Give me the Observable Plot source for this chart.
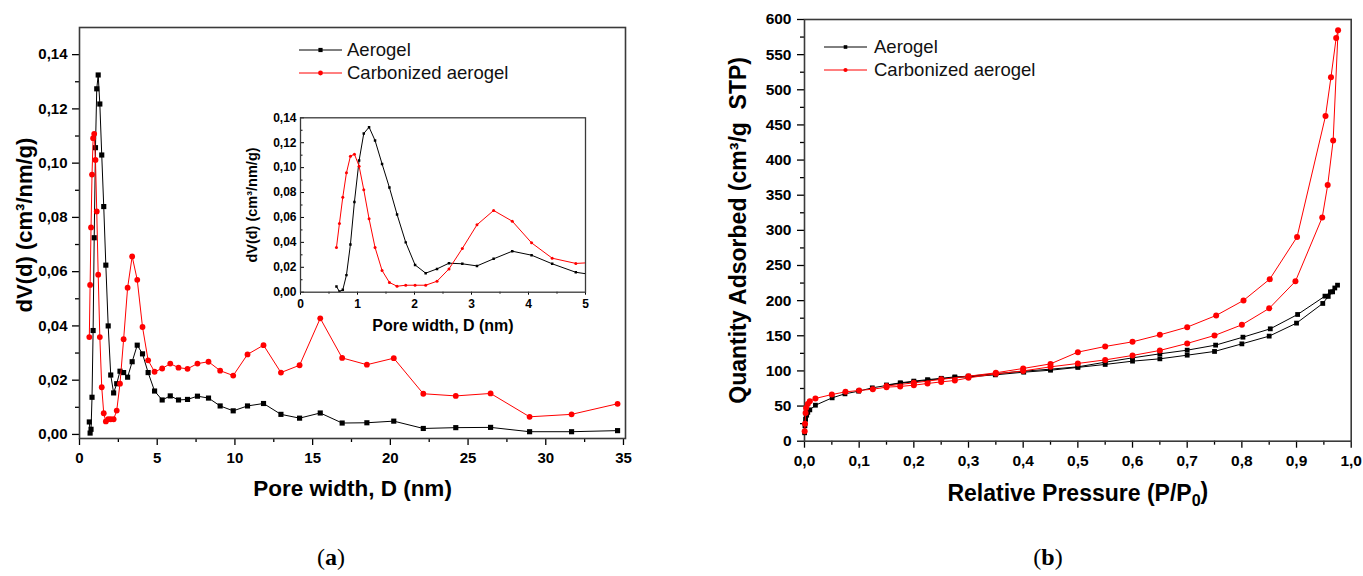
<!DOCTYPE html>
<html>
<head>
<meta charset="utf-8">
<script src="https://cdn.jsdelivr.net/npm/d3@7"></script>
<script src="https://cdn.jsdelivr.net/npm/@observablehq/plot@0.6"></script>
<style>
  body { margin: 0; background: #fff; }
  #fig { position: relative; width: 1363px; height: 576px; overflow: hidden;
         font-family: "Liberation Sans", Arial, Helvetica, sans-serif; color: #000; }
  #fig > svg { position: absolute; overflow: visible; }
  #fig .legend { position: absolute; font-size: 18.5px; color: #111; }
  #fig .legend .row { display: flex; align-items: center; height: 23px; white-space: nowrap; }
  #fig .legend svg { position: static; display: block; flex: none; }
  .cap { position: absolute; transform: translate(-50%, -50%);
         font-family: "Liberation Serif", "DejaVu Serif", serif; font-size: 24px; }
  .cap b { font-weight: bold; }
</style>
</head>
<body>
<div id="fig"></div>
<script>
// ---- Pore size distribution (DFT): pore width (nm) and dV(d) (cm3/nm/g)
const poreWidth = [0.631, 0.683, 0.742, 0.806, 0.876, 0.946, 1.028, 1.11, 1.203, 1.308, 1.431, 1.56,
  1.694, 1.846, 2.01, 2.196, 2.395, 2.605, 2.839, 3.096, 3.388, 3.715, 4.054, 4.416, 4.83, 5.32, 5.84,
  6.37, 6.95, 7.59, 8.30, 9.05, 9.89, 10.81, 11.84, 12.96, 14.16, 15.49, 16.90, 18.49, 20.22, 22.12,
  24.21, 26.45, 28.96, 31.66, 34.62];
const dvAerogel = [0.0046, 0.0005, 0.0019, 0.0137, 0.0383, 0.0725, 0.1057, 0.1274, 0.1325, 0.1218,
  0.1030, 0.0840, 0.0624, 0.0400, 0.0219, 0.0153, 0.0187, 0.0233, 0.0228, 0.0211, 0.0268, 0.0329,
  0.0297, 0.0228, 0.0160, 0.0127, 0.0142, 0.0127, 0.0129, 0.0141, 0.0134, 0.0105, 0.0087, 0.0105,
  0.0114, 0.0074, 0.0060, 0.0079, 0.0042, 0.0043, 0.0049, 0.0022, 0.0025, 0.0026, 0.0010, 0.0010, 0.0014];
const dvCarbonized = [0.0359, 0.0551, 0.0763, 0.0958, 0.1092, 0.1108, 0.1012, 0.0822, 0.0589, 0.0359,
  0.0174, 0.0078, 0.0048, 0.0056, 0.0056, 0.0056, 0.0088, 0.0187, 0.0351, 0.0541, 0.0656, 0.0570,
  0.0396, 0.0273, 0.0231, 0.0243, 0.0261, 0.0246, 0.0242, 0.0261, 0.0268, 0.0235, 0.0217, 0.0295,
  0.0329, 0.0228, 0.0255, 0.0428, 0.0282, 0.0257, 0.0281, 0.0150, 0.0142, 0.0151, 0.0065, 0.0074, 0.0113];

// ---- N2 isotherms: relative pressure and quantity adsorbed (cm3/g STP), adsorption then desorption
const pAerogel = [0.0002, 0.0008, 0.002, 0.004, 0.006, 0.0097, 0.020, 0.0506, 0.074, 0.099, 0.124, 0.150,
  0.176, 0.200, 0.226, 0.251, 0.275, 0.299, 0.349, 0.401, 0.450, 0.500, 0.550, 0.600, 0.650, 0.700,
  0.750, 0.800, 0.850, 0.900, 0.948, 0.958, 0.966, 0.975,
  0.970, 0.962, 0.952, 0.902, 0.852, 0.802, 0.752, 0.700, 0.650, 0.600, 0.550, 0.500, 0.450, 0.400,
  0.350, 0.300, 0.275, 0.250, 0.225, 0.200, 0.175, 0.150];
const qAerogel = [12, 22, 31, 37, 41, 44.6, 51.2, 61.7, 67.4, 71.2, 75.9, 79.3,
  82.6, 84.4, 86.8, 88.7, 90.7, 91.5, 94.4, 98.2, 101, 105, 109.2, 113.9, 117.2, 122.4,
  127.7, 138.5, 149.5, 168, 196, 206, 212.5, 222,
  218, 212.5, 206.4, 180.3, 159.9, 148, 136.7, 129.5, 124.3, 118.6, 112.4, 105.8, 102.5, 99.6,
  96, 92.5, 91.5, 89.5, 87.5, 85.5, 83, 80];
const pCarbonized = [0.0003, 0.001, 0.002, 0.003, 0.006, 0.0097, 0.020, 0.050, 0.075, 0.100, 0.125, 0.150,
  0.175, 0.200, 0.225, 0.250, 0.275, 0.300, 0.350, 0.400, 0.450, 0.500, 0.550, 0.600, 0.650, 0.700,
  0.750, 0.800, 0.850, 0.898, 0.947, 0.957, 0.967, 0.976,
  0.9725, 0.963, 0.953, 0.901, 0.851, 0.803, 0.753, 0.700, 0.650, 0.600, 0.550, 0.500, 0.450, 0.400,
  0.350, 0.300, 0.250, 0.200, 0.150];
const qCarbonized = [14, 25, 40, 47.4, 53.1, 56.9, 60.8, 66.4, 70.2, 72.2, 74.0, 76.9,
  77.9, 79.7, 82.1, 84.4, 86.4, 90.1, 95.8, 100, 105.8, 110.6, 115.7, 122, 129.1, 139.1,
  150.4, 165.6, 189, 227.5, 318.4, 364.4, 428, 584.6,
  573.7, 518, 462.6, 290.6, 230.6, 200.3, 178.9, 162.3, 151.3, 141.4, 134.8, 126.7, 110, 103.5,
  97.3, 92.5, 88, 83, 78.5];

// ---- series, ticks and labels
const seriesNames = ["Aerogel", "Carbonized aerogel"];
const seriesColors = ["#000000", "#ff0000"];
const psdTicksY = [0, 0.02, 0.04, 0.06, 0.08, 0.10, 0.12, 0.14];
const psdMinorY = [0.01, 0.03, 0.05, 0.07, 0.09, 0.11, 0.13];
const psdTicksX = [0, 5, 10, 15, 20, 25, 30, 35];
const psdMinorX = [2.5, 7.5, 12.5, 17.5, 22.5, 27.5, 32.5];
const insetTicksX = [0, 1, 2, 3, 4, 5];
const insetMinorX = [0.5, 1.5, 2.5, 3.5, 4.5];
const isoTicksX = [0, 0.1, 0.2, 0.3, 0.4, 0.5, 0.6, 0.7, 0.8, 0.9, 1.0];
const isoMinorX = [0.05, 0.15, 0.25, 0.35, 0.45, 0.55, 0.65, 0.75, 0.85, 0.95];
const isoTicksY = [0, 50, 100, 150, 200, 250, 300, 350, 400, 450, 500, 550, 600];
const isoMinorY = [25, 75, 125, 175, 225, 275, 325, 375, 425, 475, 525, 575];
const psdLabelX = "Pore width, D (nm)";
const psdLabelY = "dV(d) (cm³/nm/g)";
const isoLabelX = "Relative Pressure (P/P0)";
const isoLabelY = "Quantity Adsorbed (cm³/g\u00a0\u00a0STP)";
const captions = ["a", "b"];

const fig = document.getElementById("fig");
const fontStack = "'Liberation Sans', Arial, Helvetica, sans-serif";
const axisColor = "#3a3a3a";
const comma = (n) => (d) => d.toFixed(n).replace(".", ",");
const blank = () => "";
const baseStyle = {fontFamily: fontStack, fontSize: "15px", color: "#000", background: "transparent", overflow: "visible"};

const psdAerogel = poreWidth.map((w, i) => ({w, dv: dvAerogel[i]}));
const psdCarbon = poreWidth.map((w, i) => ({w, dv: dvCarbonized[i]}));
const isoAerogel = pAerogel.map((p, i) => ({p, q: qAerogel[i]}));
const isoCarbon = pCarbonized.map((p, i) => ({p, q: qCarbonized[i]}));

function seriesMarks(dataA, dataC, x, y, {rSquare, rCircle, clip = false}) {
  return [
    Plot.line(dataA, {x, y, stroke: seriesColors[0], strokeWidth: 1, clip}),
    Plot.dot(dataA, {x, y, symbol: "square", r: rSquare, fill: seriesColors[0], clip}),
    Plot.line(dataC, {x, y, stroke: seriesColors[1], strokeWidth: 1, clip}),
    Plot.dot(dataC, {x, y, symbol: "circle", r: rCircle, fill: seriesColors[1], clip})
  ];
}

function place(el, left, top) {
  el.style.left = left + "px";
  el.style.top = top + "px";
  fig.appendChild(el);
  return el;
}

// ---- (a) pore size distribution, full range
const plotA = Plot.plot({
  width: 640, height: 520,
  marginLeft: 79, marginRight: 15, marginTop: 27, marginBottom: 82,
  x: {domain: [0, 35.13]},
  y: {domain: [-0.0015, 0.15]},
  style: baseStyle,
  marks: [
    Plot.axisY({ticks: psdTicksY, tickSize: 7, tickPadding: 5, tickFormat: comma(2), fontSize: 15, fontWeight: "bold", strokeWidth: 1.3, label: null}),
    Plot.axisY({ticks: psdMinorY, tickSize: 4, tickFormat: blank, strokeWidth: 1.3, label: null}),
    Plot.axisX({ticks: psdTicksX, tickSize: 7, tickPadding: 7, tickFormat: d => String(d), fontSize: 15, fontWeight: "bold", strokeWidth: 1.3, label: null}),
    Plot.axisX({ticks: psdMinorX, tickSize: 4, tickFormat: blank, strokeWidth: 1.3, label: null}),
    Plot.frame({stroke: axisColor, strokeWidth: 1.6}),
    ...seriesMarks(psdAerogel, psdCarbon, "w", "dv", {rSquare: 2.9, rCircle: 2.9}),
    Plot.text([psdLabelX], {frameAnchor: "bottom", dy: 50, lineAnchor: "middle", fontSize: 22.5, fontWeight: "bold"}),
    Plot.text([psdLabelY], {frameAnchor: "left", dx: -55, dy: -8, rotate: -90, textAnchor: "middle", lineAnchor: "middle", fontSize: 22, fontWeight: "bold"})
  ]
});
place(plotA, 0, 0);

// ---- (a) inset, 0–5 nm
const insetFrameWidth = 285;
const plotInset = Plot.plot({
  width: 380, height: 250,
  marginLeft: 70, marginRight: 25, marginTop: 17.3, marginBottom: 58.3,
  x: {domain: [0, 5]},
  y: {domain: [0, 0.14]},
  style: baseStyle,
  marks: [
    Plot.axisY({ticks: psdTicksY, tickSize: 0, tickPadding: 4, tickFormat: comma(2), fontSize: 12, fontWeight: "bold", label: null}),
    Plot.tickY(psdTicksY, {y: d => d, insetRight: insetFrameWidth - 4, stroke: "#000", strokeWidth: 1}),
    Plot.tickY(psdMinorY, {y: d => d, insetRight: insetFrameWidth - 2.5, stroke: "#000", strokeWidth: 1}),
    Plot.axisX({ticks: insetTicksX, tickSize: 3, tickPadding: 4, tickFormat: d => String(d), fontSize: 12, fontWeight: "bold", label: null}),
    Plot.axisX({ticks: insetMinorX, tickSize: 2, tickFormat: blank, label: null}),
    Plot.frame({stroke: axisColor, strokeWidth: 1.3}),
    ...seriesMarks(psdAerogel, psdCarbon, "w", "dv", {rSquare: 1.4, rCircle: 1.5, clip: true}),
    Plot.text([psdLabelX], {frameAnchor: "bottom", dy: 33.3, lineAnchor: "middle", fontSize: 16, fontWeight: "bold"}),
    Plot.text([psdLabelY], {frameAnchor: "left", dx: -48.3, rotate: -90, textAnchor: "middle", lineAnchor: "middle", fontSize: 14.5, fontWeight: "bold"})
  ]
});
place(plotInset, 230, 100);

// ---- (b) isotherms
const plotB = Plot.plot({
  width: 683, height: 520,
  marginLeft: 124, marginRight: 12.3, marginTop: 19, marginBottom: 79.3,
  x: {domain: [0, 1]},
  y: {domain: [0, 600]},
  style: baseStyle,
  marks: [
    Plot.axisY({ticks: isoTicksY, tickSize: 7, tickPadding: 6, tickFormat: d => String(d), fontSize: 15.5, fontWeight: "bold", strokeWidth: 1.3, label: null}),
    Plot.axisY({ticks: isoMinorY, tickSize: 4, tickFormat: blank, strokeWidth: 1.3, label: null}),
    Plot.axisX({ticks: isoTicksX, tickSize: 7, tickPadding: 7, tickFormat: comma(1), fontSize: 15.5, fontWeight: "bold", strokeWidth: 1.3, label: null}),
    Plot.axisX({ticks: isoMinorX, tickSize: 4, tickFormat: blank, strokeWidth: 1.3, label: null}),
    Plot.frame({stroke: axisColor, strokeWidth: 1.6}),
    ...seriesMarks(isoAerogel, isoCarbon, "p", "q", {rSquare: 2.7, rCircle: 3}),
    Plot.text([isoLabelX], {frameAnchor: "bottom", dy: 52.3, lineAnchor: "middle", fontSize: 23, fontWeight: "bold"}),
    Plot.text([isoLabelY], {frameAnchor: "left", dx: -66, rotate: -90, textAnchor: "middle", lineAnchor: "middle", fontSize: 23, fontWeight: "bold"})
  ]
});
place(plotB, 680, 0);

// subscript 0 in P/P0
d3.select(plotB).selectAll("text").filter(function () { return this.textContent === isoLabelX; })
  .each(function () {
    const t = d3.select(this);
    t.text(isoLabelX.slice(0, -2));
    t.append("tspan").attr("dy", "0.3em").attr("font-size", "0.7em").text("0");
    t.append("tspan").attr("dy", "-0.3em").text(")");
  });

// ---- legends
function legend(left, top, rowHeight, gap, mSquare, mCircle) {
  const div = document.createElement("div");
  div.className = "legend";
  seriesNames.forEach((name, i) => {
    const row = document.createElement("div");
    row.className = "row";
    row.style.height = rowHeight + "px";
    const s = d3.create("svg").attr("width", 43).attr("height", 12);
    s.append("line").attr("x1", 0).attr("x2", 43).attr("y1", 6).attr("y2", 6)
      .attr("stroke", seriesColors[i]).attr("stroke-width", 1);
    if (i === 0) s.append("rect").attr("x", 21.5 - mSquare / 2).attr("y", 6 - mSquare / 2)
      .attr("width", mSquare).attr("height", mSquare).attr("fill", seriesColors[i]);
    else s.append("circle").attr("cx", 21.5).attr("cy", 6).attr("r", mCircle).attr("fill", seriesColors[i]);
    row.appendChild(s.node());
    const label = document.createElement("span");
    label.textContent = name;
    label.style.marginLeft = gap + "px";
    row.appendChild(label);
    div.appendChild(row);
  });
  return place(div, left, top);
}
legend(299, 38.5, 23, 5, 4.2, 2.4);
legend(824, 35.2, 23.3, 7, 3.6, 2.1);

// ---- sub-figure captions
[[331, 557], [1048, 557]].forEach(([x, y], i) => {
  const c = document.createElement("div");
  c.className = "cap";
  c.innerHTML = `(<b>${captions[i]}</b>)`;
  place(c, x, y);
});
</script>
</body>
</html>
